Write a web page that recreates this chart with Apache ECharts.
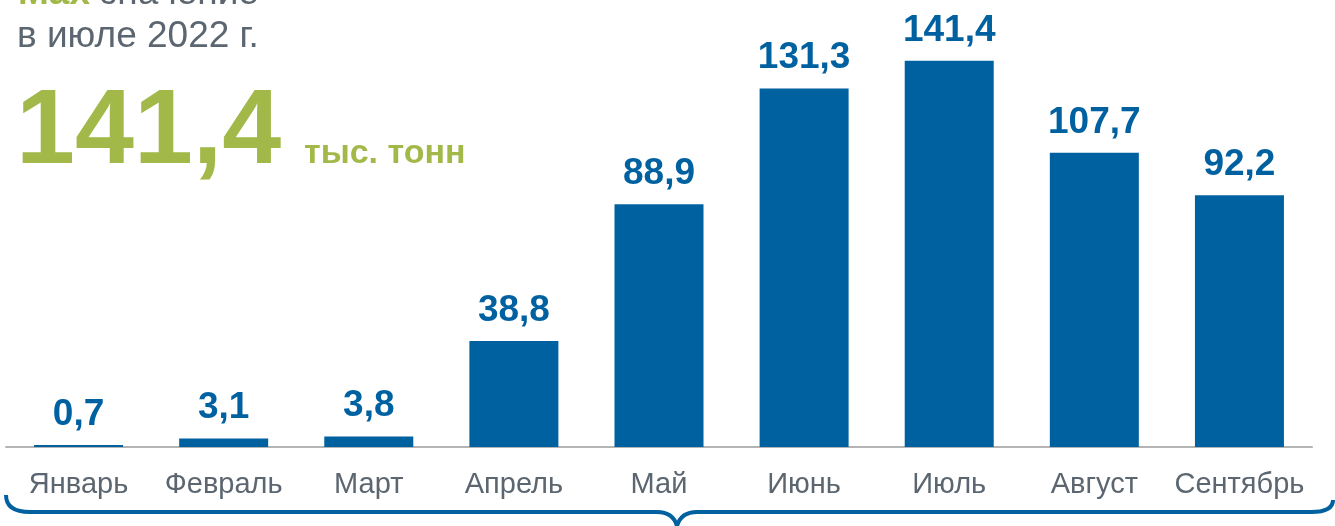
<!DOCTYPE html>
<html>
<head>
<meta charset="utf-8">
<script src="https://cdn.jsdelivr.net/npm/echarts@6/dist/echarts.min.js"></script>
<style>
  html, body { margin: 0; padding: 0; background: #fff; }
  #chart { width: 1335px; height: 526px; }
</style>
</head>
<body>
<div id="chart"></div>
<script>
const months = ['Январь', 'Февраль', 'Март', 'Апрель', 'Май', 'Июнь', 'Июль', 'Август', 'Сентябрь'];
const volumes = [0.7, 3.1, 3.8, 38.8, 88.9, 131.3, 141.4, 107.7, 92.2];

const BLUE = '#0061a0';
const GREEN = '#a2b94a';
const GRAY = '#5b6670';
const FONT = '"Liberation Sans", Arial, sans-serif';

const chart = echarts.init(document.getElementById('chart'));

// фигурная скобка под осью
const braceStyle = { stroke: BLUE, lineWidth: 4, fill: null };
const brace = [
    { type: 'bezierCurve', shape: { x1: 6, y1: 495, cpx1: 6, cpy1: 512, x2: 30, y2: 512 }, style: braceStyle },
    { type: 'line', shape: { x1: 30, y1: 512, x2: 657, y2: 512 }, style: braceStyle },
    { type: 'bezierCurve', shape: { x1: 657, y1: 512, cpx1: 673, cpy1: 512, x2: 677, y2: 526 }, style: braceStyle },
    { type: 'bezierCurve', shape: { x1: 677, y1: 526, cpx1: 681, cpy1: 512, x2: 697, y2: 512 }, style: braceStyle },
    { type: 'line', shape: { x1: 697, y1: 512, x2: 1311, y2: 512 }, style: braceStyle },
    { type: 'bezierCurve', shape: { x1: 1311, y1: 512, cpx1: 1333, cpy1: 512, x2: 1333, y2: 500 }, style: braceStyle }
];

chart.setOption({
    animation: false,
    grid: { left: 6, right: 23, top: 10, bottom: 79, containLabel: false },
    xAxis: {
        type: 'category',
        data: months,
        axisLine: { lineStyle: { color: '#b4b4b4', width: 2 } },
        axisTick: { show: false },
        axisLabel: { color: GRAY, fontSize: 29, fontFamily: FONT, margin: 23, interval: 0 }
    },
    yAxis: {
        type: 'value',
        min: 0,
        max: 160,
        show: false,
        splitLine: { show: false }
    },
    series: [{
        type: 'bar',
        data: volumes,
        barWidth: 89,
        itemStyle: { color: BLUE },
        label: {
            show: true,
            position: 'top',
            distance: 12,
            color: BLUE,
            fontSize: 37,
            fontWeight: 'bold',
            fontFamily: FONT,
            formatter: p => String(p.value).replace('.', ',')
        }
    }],
    graphic: [
        {
            type: 'text', x: 18, y: -6,
            style: {
                text: '{g|Max} значение',
                fill: GRAY, fontSize: 37, fontFamily: FONT, verticalAlign: 'middle',
                rich: { g: { fill: GREEN, fontWeight: 'bold', fontSize: 37, fontFamily: FONT } }
            }
        },
        {
            type: 'text', x: 17, y: 37,
            style: { text: 'в июле 2022 г.', fill: GRAY, fontSize: 37, fontFamily: FONT, verticalAlign: 'middle' }
        },
        {
            type: 'text', x: 16, y: 134,
            style: { text: '141,4', fill: GREEN, fontSize: 106, fontWeight: 'bold', fontFamily: FONT, verticalAlign: 'middle' }
        },
        {
            type: 'text', x: 304, y: 154,
            style: { text: 'тыс. тонн', fill: GREEN, fontSize: 34, fontWeight: 'bold', fontFamily: FONT, verticalAlign: 'middle' }
        }
    ].concat(brace)
});
</script>
</body>
</html>
